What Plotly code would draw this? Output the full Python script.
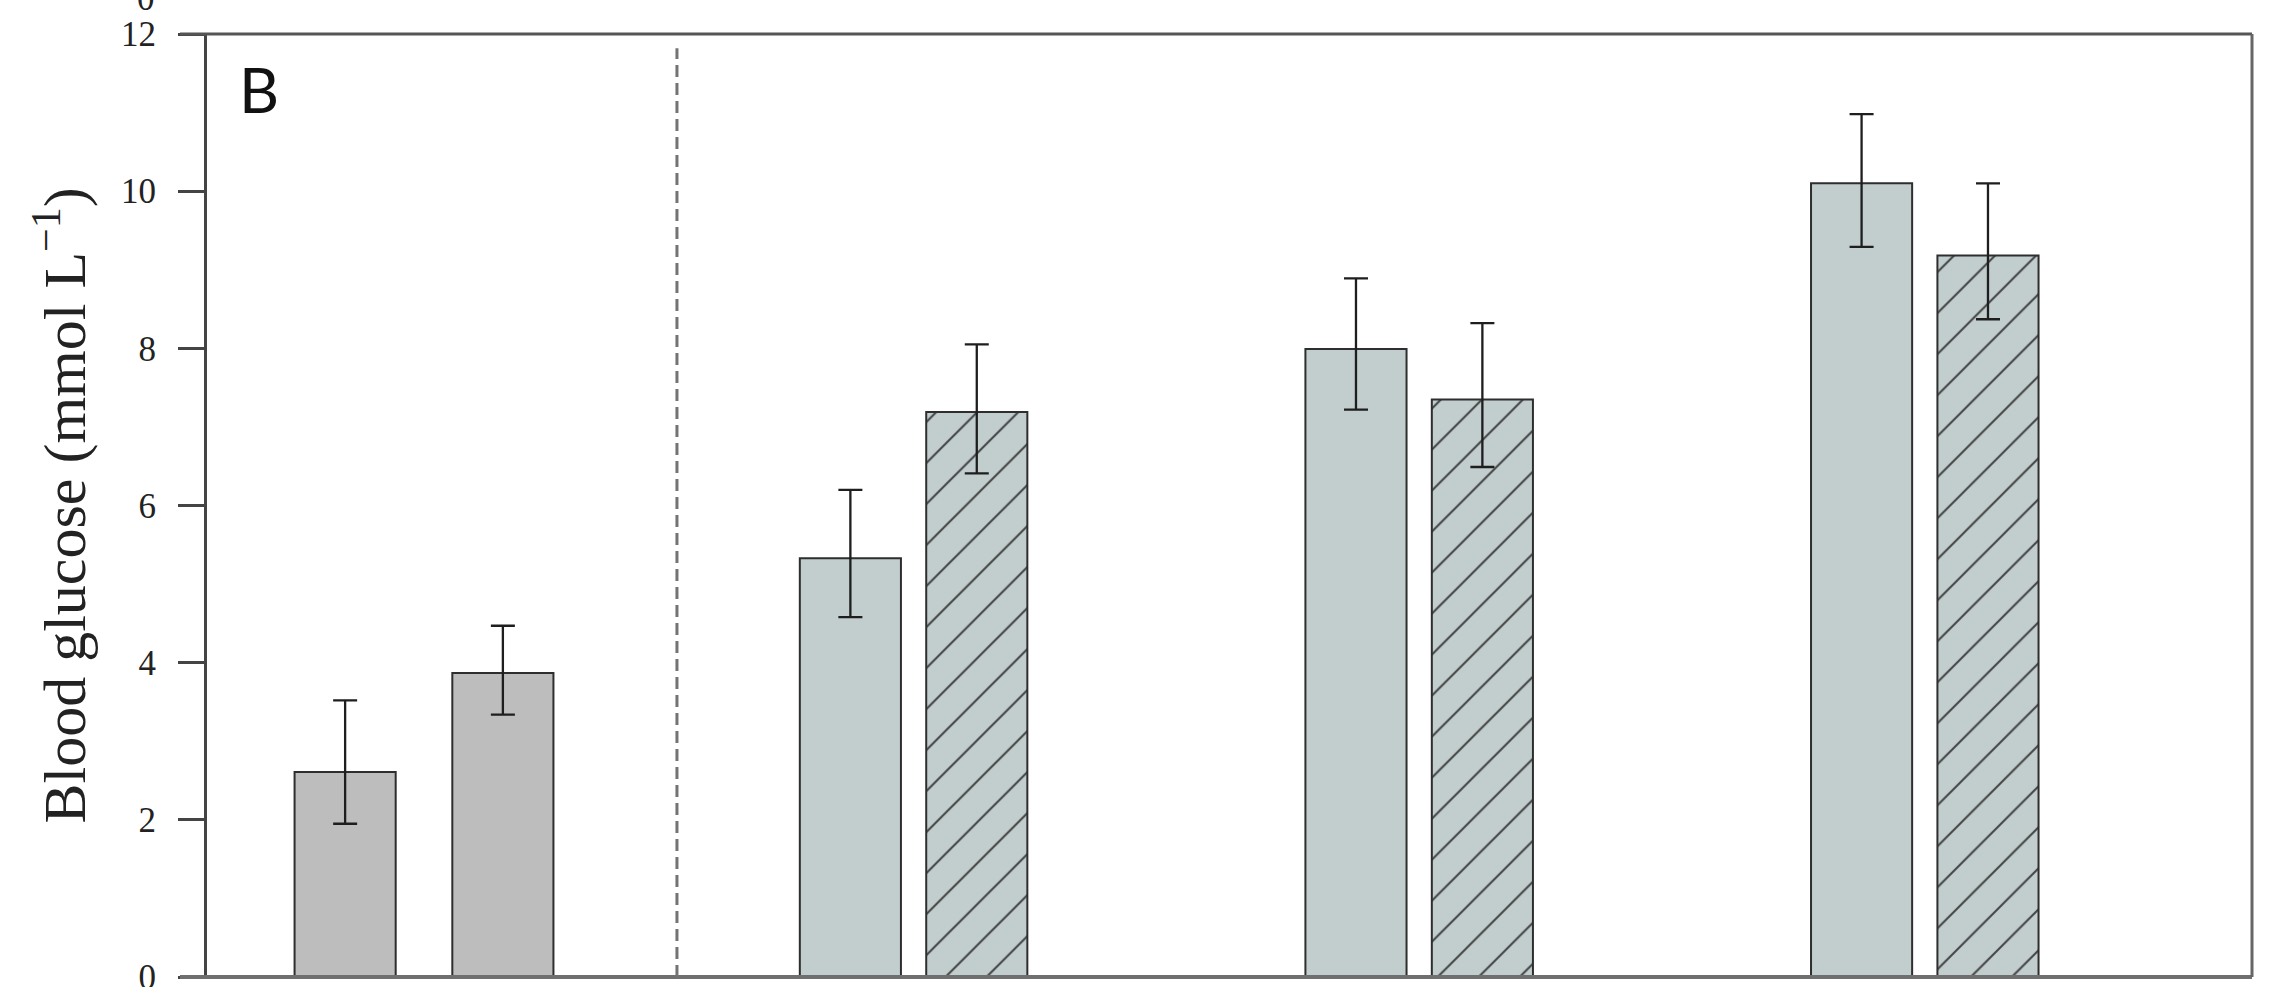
import plotly.graph_objects as go

# ---------------- data ----------------
groups = ["Group 1", "Group 2", "Group 3", "Group 4"]
series_names = ["Series 1", "Series 2"]
mean_s1 = [2.61, 5.33, 7.99, 10.10]
upper_s1 = [3.52, 6.20, 8.89, 10.98]
lower_s1 = [1.95, 4.58, 7.22, 9.29]
mean_s2 = [3.87, 7.19, 7.35, 9.18]
upper_s2 = [4.47, 8.05, 8.32, 10.10]
lower_s2 = [3.34, 6.41, 6.49, 8.37]
y_tick_vals = [0, 2, 4, 6, 8, 10, 12]
panel_label = "B"
y_title = "Blood glucose (mmol L<sup>\u22121</sup>)"

# ---------------- layout constants ----------------
W, H = 2270, 987
ML, MR, MT, MB = 207, 18, 34, 10
group_pos = [0.0317, 1.0, 2.0, 3.0]
half_gap = [0.156, 0.125, 0.125, 0.125]
divider_x = 0.532
bar_width = 0.2
x_range = [-0.3975, 3.6472]

grey = "#bdbdbd"
teal = "#c2cdcd"
fill_colors = [grey, teal, teal, teal]
hatched = [False, True, True, True]
serif = "Liberation Serif, Times New Roman, serif"

plot_w = W - ML - MR
plot_h = H - MT - MB


def px_to_xpaper(px):
    return (px - ML) / plot_w


def px_to_ypaper(py):
    return 1 - (py - MT) / plot_h


x_s1 = [g - h for g, h in zip(group_pos, half_gap)]
x_s2 = [g + h for g, h in zip(group_pos, half_gap)]

err_style = dict(color="#1e1e1e", thickness=2.3, width=12)
outline = dict(color="#2e2e2e", width=2)

fig = go.Figure()

fig.add_trace(go.Bar(
    name=series_names[0], x=x_s1, y=mean_s1, width=bar_width,
    customdata=groups,
    marker=dict(color=fill_colors, line=outline),
    error_y=dict(type="data", symmetric=False,
                 array=[u - m for u, m in zip(upper_s1, mean_s1)],
                 arrayminus=[m - l for m, l in zip(mean_s1, lower_s1)],
                 **err_style),
))

# second series: plain where not hatched, hatched elsewhere
for want_hatch in (False, True):
    idx = [i for i, h in enumerate(hatched) if h == want_hatch]
    marker = dict(color=[fill_colors[i] for i in idx], line=outline)
    if want_hatch:
        marker["pattern"] = dict(shape="/", size=29, solidity=0.07,
                                 fgcolor="#1e1e1e", fgopacity=1,
                                 fillmode="overlay")
    fig.add_trace(go.Bar(
        name=series_names[1], x=[x_s2[i] for i in idx],
        y=[mean_s2[i] for i in idx], width=bar_width,
        customdata=[groups[i] for i in idx],
        marker=marker,
        error_y=dict(type="data", symmetric=False,
                     array=[upper_s2[i] - mean_s2[i] for i in idx],
                     arrayminus=[mean_s2[i] - lower_s2[i] for i in idx],
                     **err_style),
    ))

tick_left = px_to_xpaper(180)
shapes = [
    dict(type="line", xref="paper", yref="paper", x0=tick_left, x1=1, y0=1, y1=1,
         line=dict(color="#555555", width=3)),
    dict(type="line", xref="paper", yref="paper", x0=tick_left, x1=1, y0=0, y1=0,
         line=dict(color="#6f6f6f", width=4)),
    dict(type="line", xref="paper", yref="paper", x0=1, x1=1, y0=0, y1=1,
         line=dict(color="#666666", width=3)),
    dict(type="line", xref="x", yref="paper", x0=divider_x, x1=divider_x, y0=0, y1=0.985,
         line=dict(color="#737373", width=3, dash="12px,6px")),
]

annotations = [
    dict(text=panel_label, xref="paper", yref="paper",
         x=px_to_xpaper(237), y=px_to_ypaper(89), xanchor="left", yanchor="middle",
         showarrow=False, font=dict(family="Lato, Open Sans, sans-serif", size=62, color="#111111")),
    dict(text=y_title, xref="paper", yref="paper",
         x=px_to_xpaper(60), y=0.5, xanchor="center", yanchor="middle", textangle=-90,
         showarrow=False, font=dict(family=serif, size=60, color="#222222")),
    dict(text="0", xref="paper", yref="paper",
         x=px_to_xpaper(146), y=px_to_ypaper(-1), xanchor="center", yanchor="middle",
         showarrow=False, font=dict(family=serif, size=35, color="#222222")),
]

fig.update_layout(
    template="none",
    width=W, height=H,
    margin=dict(l=ML, r=MR, t=MT, b=MB, pad=0, autoexpand=False),
    paper_bgcolor="white", plot_bgcolor="white",
    showlegend=False, barmode="overlay",
    shapes=shapes, annotations=annotations,
    xaxis=dict(range=x_range, showgrid=False, zeroline=False, showline=False,
               showticklabels=False, ticks="", automargin=False),
    yaxis=dict(range=[0, 12], tickvals=y_tick_vals, showgrid=False, zeroline=False,
               showline=True, linecolor="#444444", linewidth=3,
               ticks="outside", ticklen=26, tickwidth=2.5, tickcolor="#444444",
               ticklabelstandoff=15, ticklabeloverflow="allow", automargin=False,
               tickfont=dict(family=serif, size=35, color="#222222")),
)

fig.write_html("out.html")
